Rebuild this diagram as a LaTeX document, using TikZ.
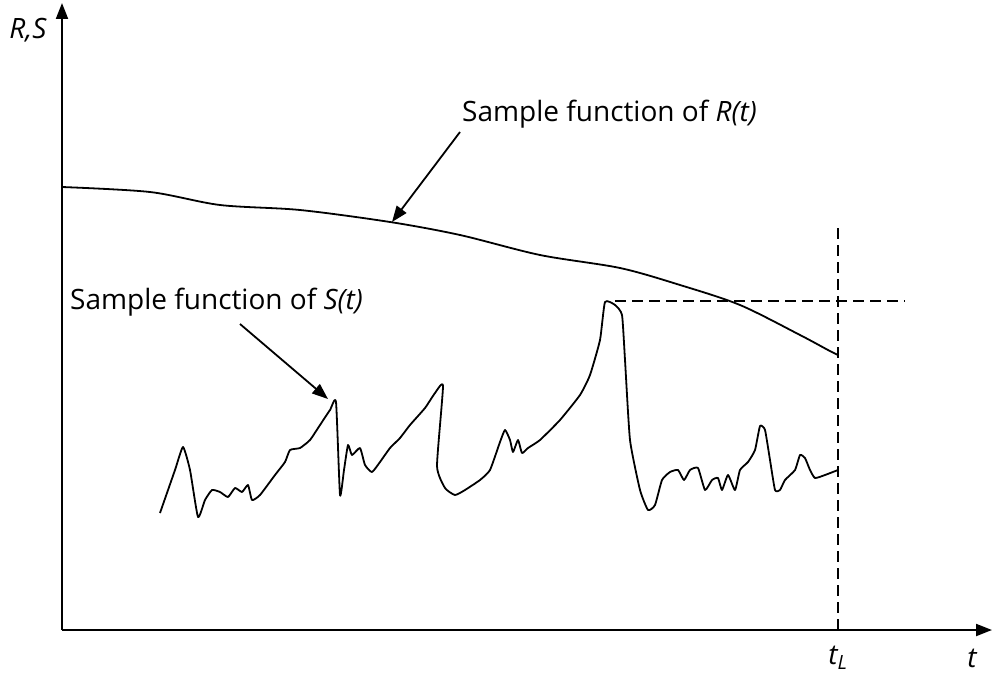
\documentclass[tikz,border=0pt]{standalone}
\usepackage{fontspec}
\setmainfont{Open Sans}
\usetikzlibrary{arrows.meta}
\begin{document}
\begin{tikzpicture}[x=1pt,y=-1pt,
  axis/.style={line width=2pt,-{Triangle[length=16pt,width=12pt]}},
  curve/.style={line width=1.8pt,line join=round},
  dashline/.style={line width=1.8pt,dash pattern=on 11pt off 6pt},
  pointer/.style={line width=1.8pt,-{Triangle[length=16pt,width=12pt]}},
  lbl/.style={font=\fontsize{28}{32}\selectfont,inner sep=0pt}]
\useasboundingbox (0,0) rectangle (995,677);
\coordinate (o) at (62,630);
\coordinate (ytop) at (62,3);
\coordinate (xend) at (992,630);
\draw[axis] (o) -- (ytop);
\draw[axis] (o) -- (xend);
\node[lbl] (ylab) at (28,30) {\itshape R,S};
\node[lbl] (xlab) at (972,658) {\itshape t};
\node[lbl] (tl) at (838,658) {\itshape t\textsubscript{L}};
\coordinate (vt) at (838,228); \coordinate (vb) at (838,630);
\draw[dashline] (vt) -- (vb);
\coordinate (hl) at (615,301); \coordinate (hr) at (905,301);
\draw[dashline] (hl) -- (hr);
\draw[curve] plot[smooth,tension=0.5] coordinates{(62,187) (150,192) (220,205) (300,210) (390,222) (460,235) (540,255) (620,268) (680,285) (740,305) (800,335) (828,350) (838,355)};
\draw[curve] plot[smooth,tension=0.3] coordinates{(160,513) (175,470) (183,447) (190,470) (198,517) (205,500) (212,490) (220,492) (228,497) (235,488) (242,492) (248,485) (252,500) (260,495) (275,475) (285,462) (290,450) (300,448) (310,440) (320,425) (330,410) (336,402) (340,495) (344,470) (348,445) (352,455) (360,448) (365,465) (372,472) (380,462) (390,448) (400,438) (410,425) (425,408) (435,393) (443,386) (437,466) (445,488) (455,495) (465,490) (480,480) (490,470) (500,442) (505,430) (510,440) (513,452) (518,440) (522,453) (528,448) (540,440) (560,420) (580,395) (590,375) (600,340) (605,302) (615,305) (622,315) (625,360) (630,440) (640,490) (648,510) (655,505) (662,480) (670,472) (678,470) (684,480) (690,470) (698,468) (705,490) (712,480) (718,478) (722,490) (728,475) (735,490) (740,470) (748,462) (755,450) (760,426) (765,430) (770,460) (775,490) (780,490) (785,480) (795,470) (800,455) (805,458) (810,470) (815,478) (825,475) (838,470)};
\node[lbl,anchor=west] (rlab) at (462,114) {Sample function of \itshape R(t)};
\node[lbl,anchor=west] (slab) at (70,302) {Sample function of \itshape S(t)};
\coordinate (ra) at (460,132); \coordinate (rb) at (392,222);
\draw[pointer] (ra) -- (rb);
\coordinate (sa) at (240,324); \coordinate (sb) at (328,399);
\draw[pointer] (sa) -- (sb);
\end{tikzpicture}
\end{document}
